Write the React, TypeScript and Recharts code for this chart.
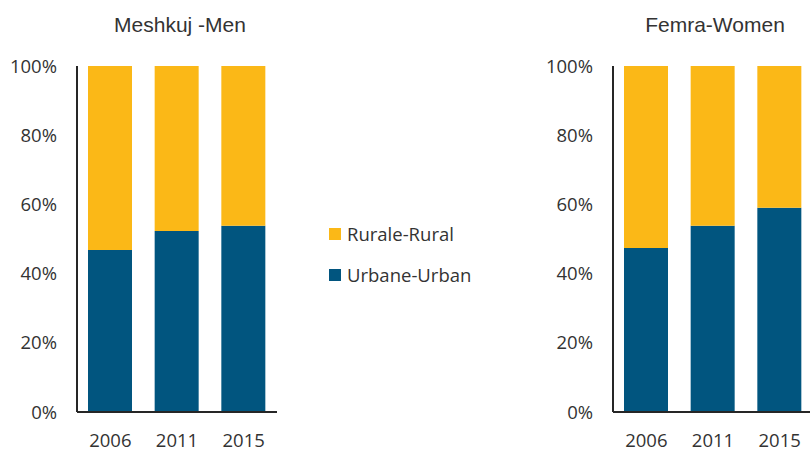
import { BarChart, Bar, XAxis, YAxis, Legend } from 'recharts'

// values (percent of total)
const years = ['2006', '2011', '2015']
const menUrban = [46.8, 52.3, 53.8]
const menRural = [53.2, 47.7, 46.2]
const womenUrban = [47.4, 53.8, 59.0]
const womenRural = [52.6, 46.2, 41.0]
const yTicks = [0, 20, 40, 60, 80, 100]

const URBAN = '#01557F'
const RURAL = '#FBB817'
const AXIS = '#262626'
const TEXT = '#333333'
const tickFont = { fontFamily: '"Open Sans", sans-serif', fontSize: 18.5, fill: TEXT }

const legendItems = [
  { name: 'Rurale-Rural', color: RURAL },
  { name: 'Urbane-Urban', color: URBAN },
]

const buildRows = (urban: number[], rural: number[]) =>
  years.map((year, i) => ({ year, urban: urban[i], rural: rural[i] }))

const menData = buildRows(menUrban, menRural)
const womenData = buildRows(womenUrban, womenRural)

function LegendBox() {
  return (
    <div style={{ fontFamily: '"Open Sans", sans-serif', fontSize: 18.5, color: TEXT }}>
      {legendItems.map((item) => (
        <div key={item.name} style={{ display: 'flex', alignItems: 'center', height: 21, marginBottom: 20 }}>
          <span style={{ width: 12, height: 12, background: item.color, marginRight: 6, display: 'inline-block' }} />
          <span style={{ whiteSpace: 'nowrap' }}>{item.name}</span>
        </div>
      ))}
    </div>
  )
}

interface PanelProps {
  data: Array<{ year: string; urban: number; rural: number }>
  yWidth: number
  right: number
  withLegend?: boolean
}

function Panel({ data, yWidth, right, withLegend }: PanelProps) {
  return (
    <BarChart width={yWidth + 200 + right} height={451} data={data} margin={{ top: 66, right, left: 0, bottom: 0 }}>
      <XAxis
        dataKey="year"
        height={39}
        tickLine={false}
        tickMargin={15.5}
        axisLine={{ stroke: AXIS, strokeWidth: 2 }}
        tick={tickFont}
      />
      <YAxis
        width={yWidth}
        domain={[0, 100]}
        ticks={yTicks}
        tickFormatter={(v: number) => `${v}%`}
        tickLine={false}
        tickMargin={14}
        axisLine={{ stroke: AXIS, strokeWidth: 2 }}
        tick={tickFont}
      />
      <Bar dataKey="urban" name="Urbane-Urban" stackId="a" fill={URBAN} barSize={44} isAnimationActive={false} />
      <Bar dataKey="rural" name="Rurale-Rural" stackId="a" fill={RURAL} barSize={44} isAnimationActive={false} />
      {withLegend && (
        <Legend
          layout="vertical"
          align="center"
          verticalAlign="middle"
          content={() => <LegendBox />}
          wrapperStyle={{ left: 329, top: 223, width: 'auto', height: 'auto' }}
        />
      )}
    </BarChart>
  )
}

const titleStyle = {
  position: 'absolute' as const,
  top: 14,
  width: 300,
  textAlign: 'center' as const,
  fontFamily: '"Liberation Sans", Arial, sans-serif',
  fontSize: 21,
  lineHeight: '21px',
  color: TEXT,
}

export default function App() {
  return (
    <div style={{ position: 'fixed', left: 0, top: 0, width: 810, height: 451, overflow: 'hidden', background: '#fff' }}>
      <div style={{ position: 'absolute', left: 0, top: 0 }}>
        <Panel data={menData} yWidth={77} right={23} withLegend />
      </div>
      <div style={{ position: 'absolute', left: 520, top: 0 }}>
        <Panel data={womenData} yWidth={93} right={7} />
      </div>
      <div style={{ ...titleStyle, left: 30 }}>Meshkuj -Men</div>
      <div style={{ ...titleStyle, left: 565 }}>Femra-Women</div>
    </div>
  )
}
